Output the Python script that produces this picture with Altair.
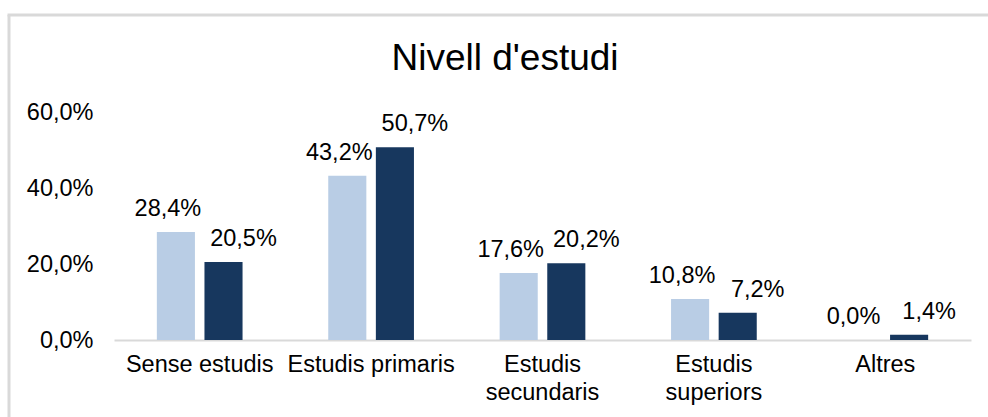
import altair as alt
import pandas as pd

categories = ["Sense estudis", "Estudis primaris", "Estudis secundaris", "Estudis superiors", "Altres"]
series_names = ["Sèrie 1", "Sèrie 2"]
values_1 = [0.284, 0.432, 0.176, 0.108, 0.0]
values_2 = [0.205, 0.507, 0.202, 0.072, 0.014]
y_ticks = [0, 0.2, 0.4, 0.6]
colors = ["#B9CDE5", "#17375E"]
wrapped = ["Estudis secundaris", "Estudis superiors"]

rows = []
for c, a, b in zip(categories, values_1, values_2):
    rows.append({"cat": c, "serie": series_names[0], "val": a})
    rows.append({"cat": c, "serie": series_names[1], "val": b})
df = pd.DataFrame(rows)

FONT = "Liberation Sans"
FS = 23.5

wrap_list = "[" + ",".join("'" + w + "'" for w in wrapped) + "]"

x_enc = alt.X(
    "cat:N", sort=categories, title=None,
    scale=alt.Scale(paddingInner=0.5, paddingOuter=0.25),
    axis=alt.Axis(
        labelAngle=0, labelFontSize=FS, labelFont=FONT, labelColor="#000000",
        domainColor="#D9D9D9", domainWidth=2, ticks=False, labelPadding=12,
        labelLineHeight=28, labelLimit=0, labelOverlap=False,
        labelExpr=f"indexof({wrap_list}, datum.value) >= 0 ? split(datum.value, ' ') : datum.value",
    ),
)
y_enc = alt.Y(
    "val:Q", title=None,
    scale=alt.Scale(domain=[0, 0.6], nice=False),
    axis=alt.Axis(
        values=y_ticks, grid=False, domain=False, ticks=False, labelPadding=21,
        labelFontSize=FS, labelFont=FONT, labelColor="#000000",
        labelExpr="replace(format(datum.value, '.1%'), '.', ',')",
    ),
)
xoff = alt.XOffset("serie:N", sort=series_names, scale=alt.Scale(paddingInner=0.2, paddingOuter=0))

base = alt.Chart(df).encode(x=x_enc, y=y_enc, xOffset=xoff)

bars = base.mark_bar().encode(
    color=alt.Color("serie:N", sort=series_names, scale=alt.Scale(domain=series_names, range=colors), legend=None)
)

labels_1 = base.transform_filter(alt.datum.serie == series_names[0]).transform_calculate(
    lab="replace(format(datum.val, '.1%'), '.', ',')"
).mark_text(dx=-8, dy=-16, baseline="alphabetic", fontSize=FS, font=FONT, color="#000000").encode(text="lab:N")

labels_2 = base.transform_filter(alt.datum.serie == series_names[1]).transform_calculate(
    lab="replace(format(datum.val, '.1%'), '.', ',')"
).mark_text(dx=20, dy=-16, baseline="alphabetic", fontSize=FS, font=FONT, color="#000000").encode(text="lab:N")

frame_df = pd.DataFrame({"k": [0]})
frame_left = alt.Chart(frame_df).mark_rule(color="#D9D9D9", strokeWidth=3).encode(
    x=alt.value(-105), y=alt.value(-97), y2=alt.value(330)
)
frame_top = alt.Chart(frame_df).mark_rule(color="#D9D9D9", strokeWidth=3).encode(
    x=alt.value(-106.5), x2=alt.value(900), y=alt.value(-97)
)
title_mark = alt.Chart(frame_df).mark_text(
    text="Nivell d'estudi", fontSize=37, font=FONT, color="#000000", align="center", baseline="alphabetic"
).encode(x=alt.value(391), y=alt.value(-42))

chart = alt.layer(frame_left, frame_top, title_mark, bars, labels_1, labels_2).properties(
    width=857, height=228,
    autosize=alt.AutoSizeParams(type="none"),
    padding={"left": 114, "top": 112, "right": 17, "bottom": 77},
    background="white",
).configure_view(stroke=None)

chart.save("out.html", embed_options={"renderer": "svg", "actions": False})
